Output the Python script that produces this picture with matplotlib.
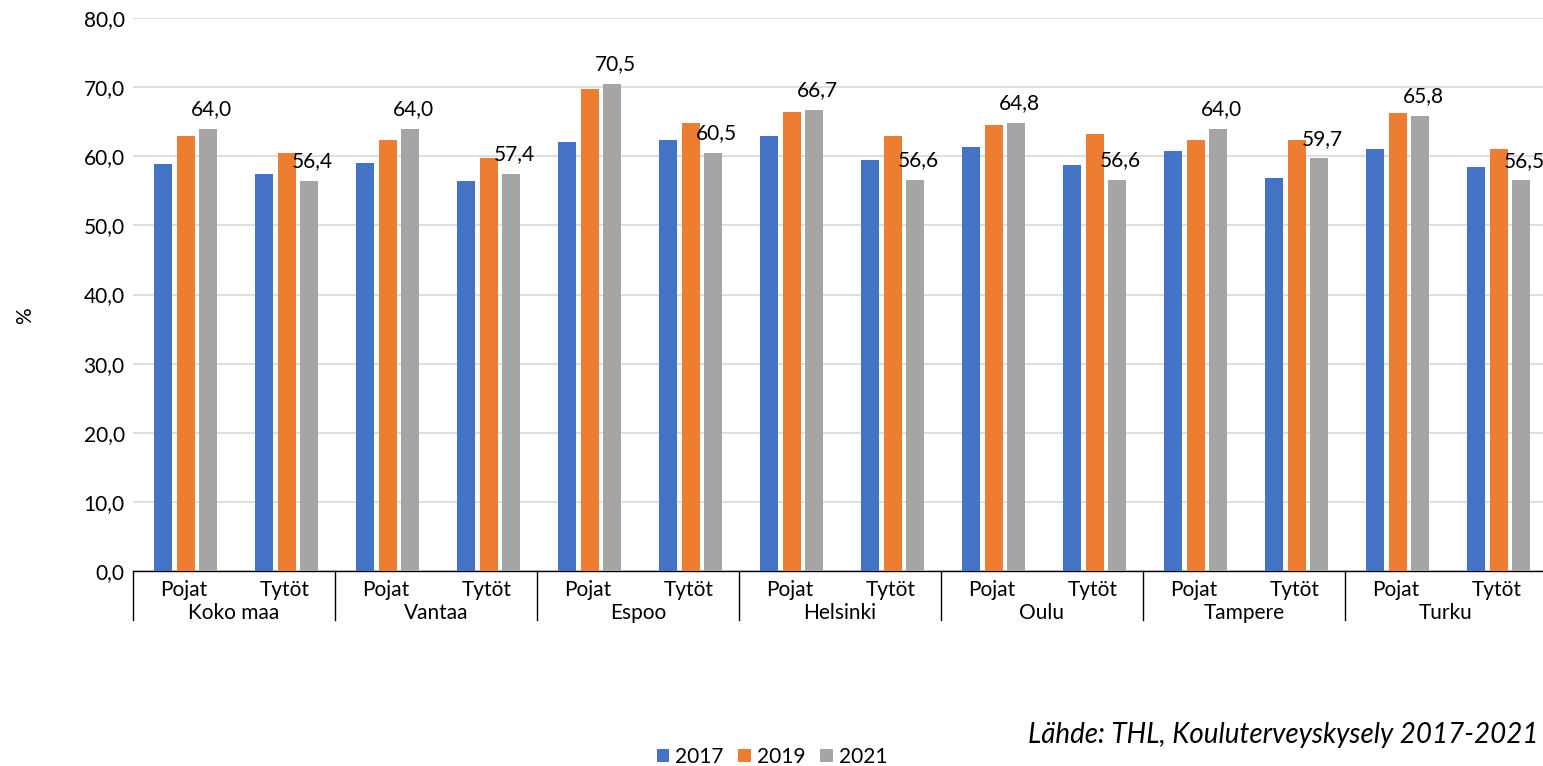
import matplotlib
matplotlib.use("Agg")
import matplotlib.pyplot as plt
import matplotlib.transforms as mtransforms
import numpy as np

plt.rcParams['font.family'] = ['Lato', 'DejaVu Sans']

cities = ["Koko maa", "Vantaa", "Espoo", "Helsinki", "Oulu", "Tampere", "Turku"]
genders = ["Pojat", "Tytöt"]
years = ["2017", "2019", "2021"]
colors = ["#4472C4", "#ED7D31", "#A5A5A5"]

v2017 = [58.9, 57.5, 59.0, 56.4, 62.0, 62.4, 62.9, 59.4, 61.3, 58.8, 60.7, 56.9, 61.0, 58.5]
v2019 = [62.9, 60.4, 62.3, 59.7, 69.7, 64.8, 66.4, 63.0, 64.5, 63.2, 62.4, 62.4, 66.2, 61.1]
v2021 = [64.0, 56.4, 64.0, 57.4, 70.5, 60.5, 66.7, 56.6, 64.8, 56.6, 64.0, 59.7, 65.8, 56.5]

yticks = [0, 10, 20, 30, 40, 50, 60, 70, 80]
source = "Lähde: THL, Kouluterveyskysely 2017-2021"

FS = 15
W, H = 1543, 766
fig = plt.figure(figsize=(W / 100, H / 100), dpi=100)
ax = fig.add_axes([133 / W, 1 - 571 / H, 1414 / W, 553 / H])

n = len(v2017)
x = np.arange(n)
bw = 0.178
step = 0.223
series = [v2017, v2019, v2021]
for i, (vals, c, yr) in enumerate(zip(series, colors, years)):
    ax.bar(x + (i - 1) * step + 0.02, vals, width=bw, color=c, label=yr, zorder=3)

for xi, v in zip(x, v2021):
    ax.annotate(f"{v:.1f}".replace(".", ","), (xi + step + 0.02 + 0.03, v),
                xytext=(0, 7), textcoords="offset points", ha="center", va="bottom",
                fontsize=FS, color="#000000", zorder=4)

ax.set_xlim(-0.5, n - 0.5)
ax.set_ylim(0, 80)
ax.set_yticks(yticks)
ax.set_yticklabels([f"{t:.1f}".replace(".", ",") for t in yticks], fontsize=FS)
ax.tick_params(axis="y", length=0, pad=6)
ax.yaxis.grid(True, color="#D9D9D9", linewidth=1.2, zorder=0)
ax.set_axisbelow(True)
for s in ["left", "right", "top"]:
    ax.spines[s].set_visible(False)
ax.spines["bottom"].set_color("#000000")
ax.spines["bottom"].set_linewidth(1.0)
ax.set_xticks([])

trans = mtransforms.blended_transform_factory(ax.transData, ax.transAxes)
for k in range(len(cities) + 1):
    xs = -0.5 + 2 * k
    ax.plot([xs, xs], [0, -49 / 553], transform=trans, color="#000000",
            linewidth=1.0, clip_on=False)
for xi in x:
    ax.text(xi, -19 / 553, genders[xi % 2], transform=trans, ha="center",
            va="center", fontsize=FS)
for k, c in enumerate(cities):
    ax.text(2 * k + 0.5, -42 / 553, c, transform=trans, ha="center",
            va="center", fontsize=FS)

fig.text(25 / W, 1 - 316 / H, "%", rotation=90, ha="center", va="center", fontsize=FS)

leg = fig.legend(loc="center", bbox_to_anchor=(772 / W, 1 - 757 / H), ncol=3,
                 frameon=False, fontsize=FS, handlelength=0.6, handleheight=0.6,
                 handletextpad=0.3, columnspacing=0.7, borderaxespad=0)

fig.text(1028 / W, 1 - 735 / H, source, ha="left", va="center", fontsize=20,
         style="italic")

fig.savefig("out.png", dpi=100)
